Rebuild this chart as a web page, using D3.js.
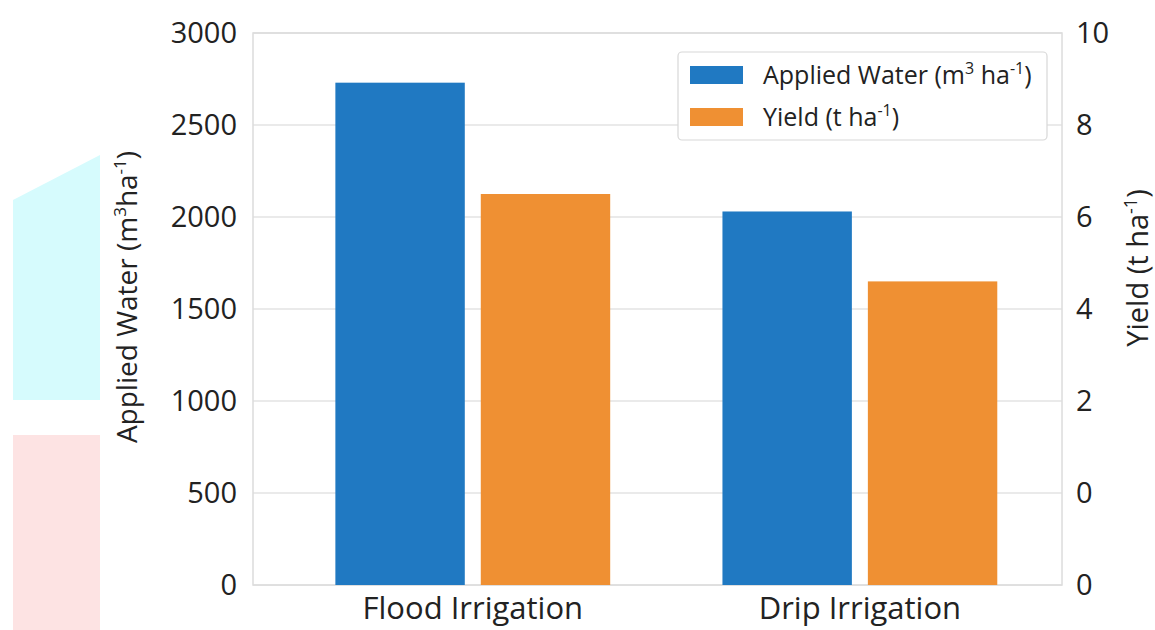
<!DOCTYPE html>
<html><head><meta charset="utf-8">
<script src="https://cdn.jsdelivr.net/npm/d3@7"></script>
<style>
body{margin:0;background:#fff;}
text{font-family:"Open Sans","Noto Sans",sans-serif;fill:#222;}
</style></head>
<body><svg id="c" width="1155" height="630"></svg>
<script>
const categories = ["Flood Irrigation", "Drip Irrigation"];
const seriesNames = ["Applied Water", "Yield"];
const appliedWater = [2730, 2030];
const yieldValues = [6.5, 4.6];
const leftTicks = [0, 500, 1000, 1500, 2000, 2500, 3000];
const rightTickValues = [-2, 0, 2, 4, 6, 8, 10];
const rightTickLabels = ["0", "0", "2", "4", "6", "8", "10"];
const colors = ["#2079c2", "#ef9033"];

const svg = d3.select("#c");
const m = {l: 253, r: 1062, t: 33, b: 585};

// faint background logo shapes
svg.append("path").attr("d","M13,200 L100,155 L100,400 L13,400 Z").attr("fill","#d6fbfd");
svg.append("path").attr("d","M13,435 L100,435 L100,630 L13,630 Z").attr("fill","#fde3e3");

const y = d3.scaleLinear().domain([0, 3000]).range([m.b, m.t]);
const y2 = d3.scaleLinear().domain([-2, 10]).range([m.b, m.t]);
const x0 = d3.scaleBand().domain(categories).range([m.l, m.r]).paddingInner(0.29).paddingOuter(0.19).align(0.56);
const x1 = d3.scaleBand().domain(seriesNames).range([0, x0.bandwidth()]).paddingInner(0.11);

// grid
svg.append("g").selectAll("line").data(leftTicks).join("line")
  .attr("x1", m.l).attr("x2", m.r).attr("y1", d => y(d)).attr("y2", d => y(d))
  .attr("stroke", "#e3e3e3").attr("stroke-width", 1.5);
svg.append("rect").attr("x", m.l).attr("y", m.t).attr("width", m.r - m.l).attr("height", m.b - m.t)
  .attr("fill", "none").attr("stroke", "#dcdcdc").attr("stroke-width", 1.5);

// bars
const g = svg.append("g");
categories.forEach((c, i) => {
  g.append("rect").attr("x", x0(c) + x1("Applied Water")).attr("width", x1.bandwidth())
    .attr("y", y(appliedWater[i])).attr("height", y(0) - y(appliedWater[i])).attr("fill", colors[0]);
  g.append("rect").attr("x", x0(c) + x1("Yield")).attr("width", x1.bandwidth())
    .attr("y", y2(yieldValues[i])).attr("height", m.b - y2(yieldValues[i])).attr("fill", colors[1]);
});

// left axis
const la = svg.append("g").attr("transform", `translate(${m.l},0)`)
  .call(d3.axisLeft(y).tickValues(leftTicks).tickSize(0).tickPadding(16).tickFormat(d3.format("d")));
la.select(".domain").remove();
la.selectAll("text").attr("font-size", 29).style("fill", "#222");

// right axis
const ra = svg.append("g").attr("transform", `translate(${m.r},0)`)
  .call(d3.axisRight(y2).tickValues(rightTickValues).tickSize(0).tickPadding(14)
    .tickFormat((d, i) => rightTickLabels[i]));
ra.select(".domain").remove();
ra.selectAll("text").attr("font-size", 29).style("fill", "#222");

// x axis
const xa = svg.append("g").attr("transform", `translate(0,${m.b})`)
  .call(d3.axisBottom(x0).tickSize(0).tickPadding(12));
xa.select(".domain").remove();
xa.selectAll("text").attr("font-size", 31).style("fill", "#222");

// axis titles
const lt = svg.append("text").attr("transform", "translate(137,297) rotate(-90)")
  .attr("text-anchor", "middle").attr("font-size", 28);
lt.append("tspan").text("Applied Water (m");
lt.append("tspan").attr("font-size", 17).attr("dy", -11).text("3");
lt.append("tspan").attr("dy", 11).text("ha");
lt.append("tspan").attr("font-size", 17).attr("dy", -11).text("-1");
lt.append("tspan").attr("dy", 11).text(")");

const rt = svg.append("text").attr("transform", "translate(1148,268) rotate(-90)")
  .attr("text-anchor", "middle").attr("font-size", 29);
rt.append("tspan").text("Yield (t ha");
rt.append("tspan").attr("font-size", 18).attr("dy", -11).text("-1");
rt.append("tspan").attr("dy", 11).text(")");

// legend
const lg = svg.append("g");
lg.append("rect").attr("x", 678).attr("y", 52).attr("width", 369).attr("height", 88).attr("rx", 4)
  .attr("fill", "#fff").attr("stroke", "#d8d8d8").attr("stroke-width", 1.2);
const legendLabels = [["Applied Water (m", "3", " ha", "-1", ")"], ["Yield (t ha", "-1", ")"]];
legendLabels.forEach((parts, i) => {
  const yy = 75 + i * 42;
  lg.append("rect").attr("x", 690).attr("y", yy - 9).attr("width", 53).attr("height", 18).attr("fill", colors[i]);
  const t = lg.append("text").attr("x", 763).attr("y", yy + 9).attr("font-size", 25);
  parts.forEach((p, k) => {
    const sup = k % 2 === 1;
    t.append("tspan").attr("font-size", sup ? 16 : 25).attr("dy", k === 0 ? 0 : (sup ? -10 : 10)).text(p);
  });
});
</script></body></html>
